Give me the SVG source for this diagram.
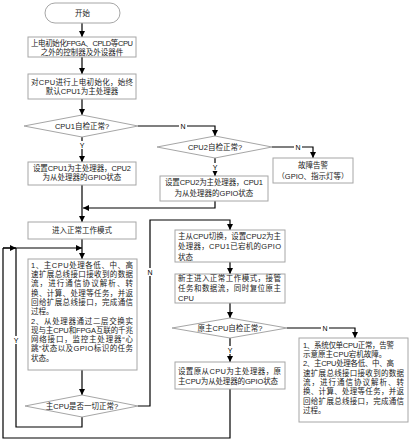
<svg xmlns="http://www.w3.org/2000/svg" width="411" height="443" viewBox="0 0 411 443">
<defs>
<marker id="ah" viewBox="0 0 10 10" refX="10" refY="5" markerWidth="6" markerHeight="6" markerUnits="userSpaceOnUse" orient="auto"><path d="M0,0 L10,5 L0,10 z" fill="#000"/></marker>
<style>
.box{fill:#fff;stroke:#a6a6a6;stroke-width:1}
.ln{fill:none;stroke:#000;stroke-width:1.2}
.ar{marker-end:url(#ah)}
text{font-family:"Liberation Sans","Noto Sans CJK SC",sans-serif;font-size:7.5px;fill:#222}
.c{text-anchor:middle}
.lb{font-size:7px;text-anchor:middle;fill:#000}
.bg{fill:#fff}
</style>
</defs>
<rect width="411" height="443" fill="#fff"/>
<g id="connectors">
<path class="ln ar" d="M82,23 V37"/>
<path class="ln ar" d="M82,57 V74"/>
<path class="ln ar" d="M82,99 V115"/>
<path class="ln ar" d="M138,126 H215 V136"/>
<path class="ln ar" d="M272,147 H313 V158"/>
<path class="ln ar" d="M215,158 V176"/>
<path class="ln ar" d="M215,201 V208 H83"/>
<path class="ln ar" d="M82,137 V162"/>
<path class="ln ar" d="M82,185 V222"/>
<path class="ln ar" d="M82,239 V259"/>
<path class="ln ar" d="M82,370 V395"/>
<path class="ln" d="M82,417 V427 H16 V248"/>
<path class="ln ar" d="M3,248 H16"/>
<path class="ln ar" d="M3,248 H82"/>
<path class="ln" d="M230,389 V438 H3 V248"/>
<path class="ln ar" d="M138,406 H150 V220 H230 V230"/>
<path class="ln ar" d="M230,262 V274"/>
<path class="ln ar" d="M230,303 V318"/>
<path class="ln ar" d="M287,328 H355 V338"/>
<path class="ln ar" d="M230,338 V362"/>
<rect class="bg" x="179" y="122" width="8" height="8"/><text class="lb" x="183" y="128.5">N</text>
<rect class="bg" x="294" y="143" width="8" height="8"/><text class="lb" x="298" y="149.5">N</text>
<rect class="bg" x="211" y="163" width="8" height="8"/><text class="lb" x="215" y="169.5">Y</text>
<rect class="bg" x="78" y="141" width="8" height="8"/><text class="lb" x="82" y="147.5">Y</text>
<rect class="bg" x="12" y="336" width="8" height="8"/><text class="lb" x="16" y="342.5">Y</text>
<rect class="bg" x="146" y="268" width="8" height="8"/><text class="lb" x="150" y="274.5">N</text>
<rect class="bg" x="321" y="324" width="8" height="8"/><text class="lb" x="325" y="330.5">N</text>
<rect class="bg" x="226" y="346" width="8" height="8"/><text class="lb" x="230" y="352.5">Y</text>
</g>
<g id="start"><rect class="box" x="45" y="3" width="75" height="20" rx="10"/><text class="c" x="82.5" y="15.8">开始</text></g>
<g id="init-fpga"><rect class="box" x="28" y="37" width="108" height="20"/>
<text class="c" x="82" y="45.5" textLength="102" lengthAdjust="spacing">上电初始化FPGA、CPLD等CPU</text>
<text class="c" x="82" y="54.8">之外的控制器及外设器件</text></g>
<g id="init-cpu"><rect class="box" x="28" y="74" width="108" height="25"/>
<text class="c" x="82" y="84.5" textLength="102" lengthAdjust="spacing">对CPU进行上电初始化，始终</text>
<text class="c" x="82" y="94">默认CPU1为主处理器</text></g>
<g id="cpu1-check"><polygon class="box" points="24,126 82,115 138,126 82,137"/><text class="c" x="82" y="128.7">CPU1自检正常?</text></g>
<g id="cpu2-check"><polygon class="box" points="157,147 215,136 272,147 215,158"/><text class="c" x="215" y="149.7">CPU2自检正常?</text></g>
<g id="fault-alarm"><rect class="box" x="273" y="158" width="80" height="25"/>
<text class="c" x="313" y="167.7">故障告警</text>
<text class="c" x="313" y="178.5">（GPIO、指示灯等）</text></g>
<g id="set-cpu2"><rect class="box" x="160" y="176" width="108" height="25"/>
<text class="c" x="214" y="185" textLength="98" lengthAdjust="spacing">设置CPU2为主处理器，CPU1</text>
<text class="c" x="214" y="196">为从处理器的GPIO状态</text></g>
<g id="set-cpu1"><rect class="box" x="28" y="162" width="108" height="23"/>
<text class="c" x="82" y="170.7" textLength="98" lengthAdjust="spacing">设置CPU1为主处理器，CPU2</text>
<text class="c" x="82" y="180">为从处理器的GPIO状态</text></g>
<g id="normal-mode"><rect class="box" x="28" y="222" width="108" height="17"/><text class="c" x="82" y="233">进入正常工作模式</text></g>
<g id="main-task"><rect class="box" x="28" y="259" width="109" height="111"/>
<text x="31" y="267.7" textLength="102" lengthAdjust="spacing">1、主CPU处理各低、中、高</text>
<text x="31" y="277" textLength="102" lengthAdjust="spacing">速扩展总线接口接收到的数据</text>
<text x="31" y="286.3" textLength="102" lengthAdjust="spacing">流，进行通信协议解析、转</text>
<text x="31" y="295.6" textLength="102" lengthAdjust="spacing">换、计算、处理等任务，并返</text>
<text x="31" y="304.9" textLength="102" lengthAdjust="spacing">回给扩展总线接口，完成通信</text>
<text x="31" y="314.2">过程。</text>
<text x="31" y="323.5" textLength="102" lengthAdjust="spacing">2、从处理器通过二层交换实</text>
<text x="31" y="332.8" textLength="102" lengthAdjust="spacing">现与主CPU和FPGA互联的千兆</text>
<text x="31" y="342.1" textLength="102" lengthAdjust="spacing">网络接口，监控主处理器“心</text>
<text x="31" y="351.4" textLength="102" lengthAdjust="spacing">跳”状态以及GPIO标识的任务</text>
<text x="31" y="360.7">状态。</text></g>
<g id="main-ok"><polygon class="box" points="25,406 82,395 138,406 82,417"/><text class="c" x="82" y="408.7">主CPU是否一切正常?</text></g>
<g id="switch"><rect class="box" x="175" y="230" width="110" height="32"/>
<text x="178" y="238.5" textLength="103" lengthAdjust="spacing">主从CPU切换，设置CPU2为主</text>
<text x="178" y="249" textLength="103" lengthAdjust="spacing">处理器，CPU1已宕机的GPIO</text>
<text x="178" y="259.5">状态</text></g>
<g id="new-master"><rect class="box" x="175" y="274" width="110" height="29"/>
<text x="178" y="281" textLength="103" lengthAdjust="spacing">新主进入正常工作模式，接管</text>
<text x="178" y="291" textLength="103" lengthAdjust="spacing">任务和数据流，同时复位原主</text>
<text x="178" y="301">CPU</text></g>
<g id="old-master-check"><polygon class="box" points="172,328 230,318 287,328 230,338"/><text class="c" x="230" y="330.7">原主CPU自检正常?</text></g>
<g id="restore"><rect class="box" x="175" y="362" width="110" height="27"/>
<text x="178" y="373.5" textLength="103" lengthAdjust="spacing">设置原从CPU为主处理器，原</text>
<text x="178" y="383.7" textLength="100" lengthAdjust="spacing">主CPU为从处理器的GPIO状态</text></g>
<g id="single-cpu"><rect class="box" x="299" y="338" width="109" height="84"/>
<text x="303" y="347.7" textLength="91" lengthAdjust="spacing">1、系统仅单CPU正常，告警</text>
<text x="303" y="357">示意原主CPU宕机故障。</text>
<text x="303" y="366.3" textLength="91" lengthAdjust="spacing">2、主CPU处理各低、中、高</text>
<text x="303" y="375.6" textLength="101" lengthAdjust="spacing">速扩展总线接口接收到的数据</text>
<text x="303" y="384.9" textLength="101" lengthAdjust="spacing">流，进行通信协议解析、转</text>
<text x="303" y="394.2" textLength="101" lengthAdjust="spacing">换、计算、处理等任务，并返</text>
<text x="303" y="403.5" textLength="101" lengthAdjust="spacing">回给扩展总线接口，完成通信</text>
<text x="303" y="412.8">过程。</text></g>
</svg>
